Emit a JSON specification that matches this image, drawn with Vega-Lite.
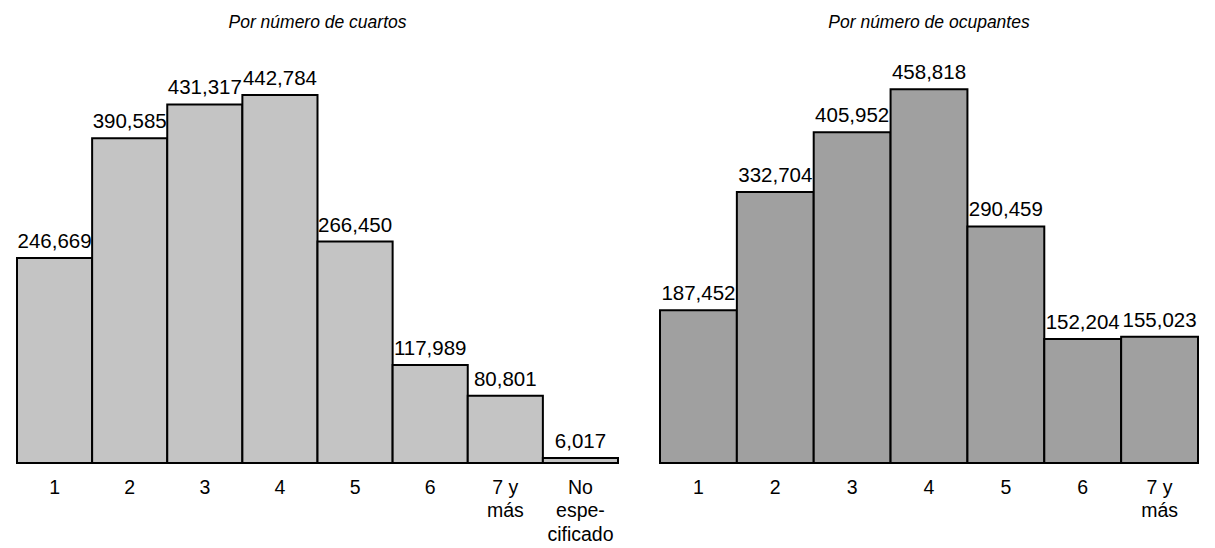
{
  "$schema": "https://vega.github.io/schema/vega-lite/v6.1.0.json",
  "padding": {"left": 16, "top": 13, "right": 0, "bottom": 0},
  "spacing": 40,
  "hconcat": [
    {
      "title": {"text": "Por número de cuartos"},
      "width": 601,
      "height": 400,
      "data": {
        "values": [
          {"cuartos": "1", "viviendas": 246669},
          {"cuartos": "2", "viviendas": 390585},
          {"cuartos": "3", "viviendas": 431317},
          {"cuartos": "4", "viviendas": 442784},
          {"cuartos": "5", "viviendas": 266450},
          {"cuartos": "6", "viviendas": 117989},
          {"cuartos": "7 y\nmás", "viviendas": 80801},
          {"cuartos": "No\nespe-\ncificado", "viviendas": 6017}
        ]
      },
      "encoding": {
        "x": {
          "field": "cuartos",
          "type": "nominal",
          "sort": null,
          "scale": {"paddingInner": 0, "paddingOuter": 0},
          "axis": {"labelExpr": "split(datum.label, '\\n')"}
        },
        "y": {
          "field": "viviendas",
          "type": "quantitative",
          "scale": {"domain": [0, 481200], "nice": false},
          "axis": null
        }
      },
      "layer": [
        {"mark": {"type": "bar", "fill": "#c4c4c4", "stroke": "black", "strokeWidth": 2}},
        {
          "mark": {"type": "text", "baseline": "alphabetic", "dy": -10, "fontSize": 20.5},
          "encoding": {"text": {"field": "viviendas", "type": "quantitative", "format": ","}}
        }
      ]
    },
    {
      "title": {"text": "Por número de ocupantes"},
      "width": 538,
      "height": 400,
      "data": {
        "values": [
          {"ocupantes": "1", "viviendas": 187452},
          {"ocupantes": "2", "viviendas": 332704},
          {"ocupantes": "3", "viviendas": 405952},
          {"ocupantes": "4", "viviendas": 458818},
          {"ocupantes": "5", "viviendas": 290459},
          {"ocupantes": "6", "viviendas": 152204},
          {"ocupantes": "7 y\nmás", "viviendas": 155023}
        ]
      },
      "encoding": {
        "x": {
          "field": "ocupantes",
          "type": "nominal",
          "sort": null,
          "scale": {"paddingInner": 0, "paddingOuter": 0},
          "axis": {"labelExpr": "split(datum.label, '\\n')"}
        },
        "y": {
          "field": "viviendas",
          "type": "quantitative",
          "scale": {"domain": [0, 491100], "nice": false},
          "axis": null
        }
      },
      "layer": [
        {"mark": {"type": "bar", "fill": "#a0a0a0", "stroke": "black", "strokeWidth": 2}},
        {
          "mark": {"type": "text", "baseline": "alphabetic", "dy": -10, "fontSize": 20.5},
          "encoding": {"text": {"field": "viviendas", "type": "quantitative", "format": ","}}
        }
      ]
    }
  ],
  "config": {
    "font": "Liberation Sans",
    "view": {"stroke": null},
    "title": {"fontSize": 17.5, "fontStyle": "italic", "fontWeight": "normal", "color": "black", "offset": 32},
    "text": {"color": "black", "font": "Liberation Sans"},
    "axis": {
      "title": null,
      "domain": false,
      "ticks": false,
      "labelAngle": 0,
      "labelFontSize": 19.5,
      "labelColor": "black",
      "labelPadding": 15,
      "labelLineHeight": 23.5,
      "labelOverlap": false,
      "labelLimit": 0
    }
  }
}
